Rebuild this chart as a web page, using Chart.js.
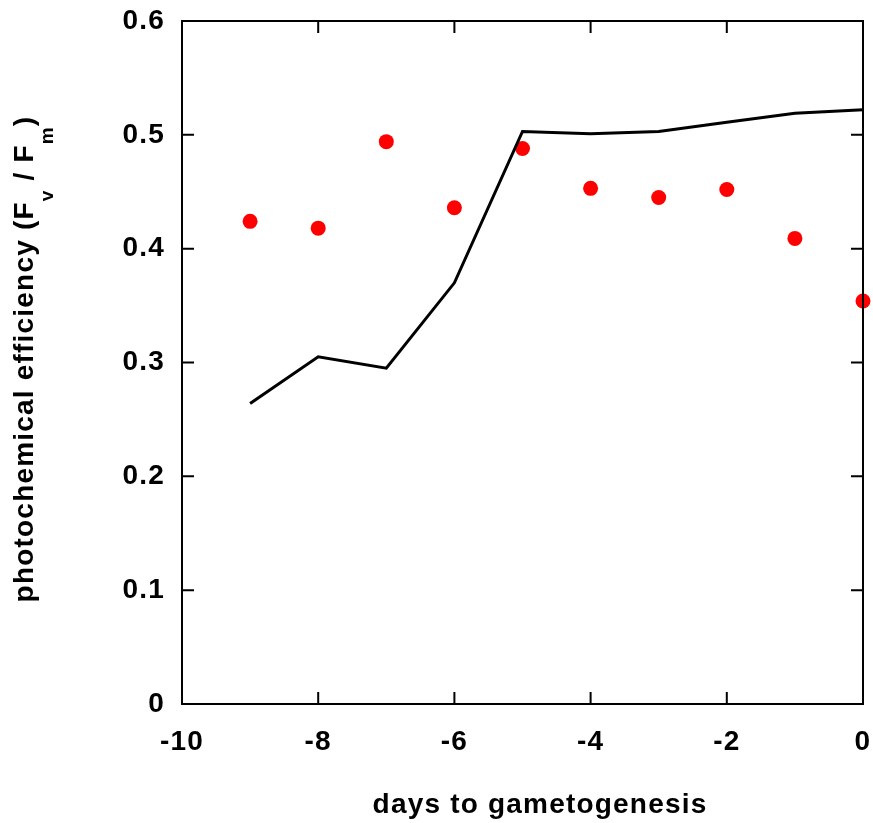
<!DOCTYPE html>
<html>
<head>
<meta charset="utf-8">
<script src="https://cdn.jsdelivr.net/npm/chart.js@4.4.1/dist/chart.umd.min.js"></script>
<style>
  html, body { margin: 0; padding: 0; background: #fff; }
  #wrap { width: 873px; height: 823px; position: relative; }
</style>
</head>
<body>
<div id="wrap"><canvas id="c" width="873" height="823"></canvas></div>
<script>
// ---- data ----
const days = [-9, -8, -7, -6, -5, -4, -3, -2, -1, 0];
const pointValues = [0.424, 0.418, 0.494, 0.436, 0.488, 0.453, 0.445, 0.452, 0.409, 0.354];
const lineValues = [0.264, 0.305, 0.295, 0.370, 0.503, 0.501, 0.503, 0.511, 0.519, 0.522];
const xTickLabels = ['-10', '-8', '-6', '-4', '-2', '0'];
const yTickLabels = ['0', '0.1', '0.2', '0.3', '0.4', '0.5', '0.6'];
const xTitle = 'days to gametogenesis';
const yTitleParts = [
  { text: 'photochemical efficiency (F', sub: false },
  { text: 'v', sub: true },
  { text: ' / F', sub: false },
  { text: 'm', sub: true },
  { text: ')', sub: false }
];

const FONT = '"Liberation Sans", Arial, sans-serif';
const SPACING = '1.2px';

const spacingPlugin = {
  id: 'spacing',
  beforeUpdate(chart) { chart.ctx.letterSpacing = SPACING; },
  beforeLayout(chart) { chart.ctx.letterSpacing = SPACING; },
  beforeDraw(chart) { chart.ctx.letterSpacing = SPACING; }
};

const framePlugin = {
  id: 'frame',
  afterDraw(chart) {
    const { ctx, chartArea: a, scales } = chart;
    ctx.save();
    ctx.strokeStyle = '#000';
    ctx.lineWidth = 2;
    ctx.strokeRect(a.left, a.top, a.right - a.left, a.bottom - a.top);
    const tl = 12;
    ctx.beginPath();
    scales.x.ticks.forEach(t => {
      const px = scales.x.getPixelForValue(t.value);
      ctx.moveTo(px, a.bottom); ctx.lineTo(px, a.bottom - tl);
      ctx.moveTo(px, a.top); ctx.lineTo(px, a.top + tl);
    });
    scales.y.ticks.forEach(t => {
      const py = scales.y.getPixelForValue(t.value);
      ctx.moveTo(a.left, py); ctx.lineTo(a.left + tl, py);
      ctx.moveTo(a.right, py); ctx.lineTo(a.right - tl, py);
    });
    ctx.stroke();

    ctx.letterSpacing = SPACING;
    ctx.fillStyle = '#000';

    // x-axis title
    ctx.font = 'bold 28px ' + FONT;
    ctx.textAlign = 'center';
    ctx.textBaseline = 'middle';
    ctx.fillText(xTitle, 540, 805);

    // y-axis title with subscripts
    const mainFont = 'bold 28px ' + FONT;
    const subFont = 'bold 19px ' + FONT;
    let total = 0;
    yTitleParts.forEach(p => {
      ctx.font = p.sub ? subFont : mainFont;
      p.w = ctx.measureText(p.text).width;
      total += p.w;
    });
    ctx.translate(33, 359);
    ctx.rotate(-Math.PI / 2);
    ctx.textBaseline = 'alphabetic';
    ctx.textAlign = 'left';
    let x = -total / 2;
    yTitleParts.forEach(p => {
      ctx.font = p.sub ? subFont : mainFont;
      ctx.fillText(p.text, x, p.sub ? 20 : 0);
      x += p.w;
    });
    ctx.restore();
  }
};

new Chart(document.getElementById('c'), {
  type: 'scatter',
  data: {
    datasets: [
      {
        label: 'line',
        data: days.map((d, i) => ({ x: d, y: lineValues[i] })),
        showLine: true,
        borderColor: '#000',
        borderWidth: 3,
        pointRadius: 0,
        fill: false,
        tension: 0,
        clip: false
      },
      {
        label: 'points',
        data: days.map((d, i) => ({ x: d, y: pointValues[i] })),
        showLine: false,
        pointRadius: 7.5,
        pointBackgroundColor: '#ff0000',
        pointBorderWidth: 0,
        borderColor: '#ff0000',
        clip: false
      }
    ]
  },
  options: {
    responsive: false,
    animation: false,
    devicePixelRatio: 1,
    layout: { padding: { top: 21, right: 10, left: 0, bottom: 0 } },
    plugins: { legend: { display: false }, tooltip: { enabled: false } },
    scales: {
      x: {
        type: 'linear',
        min: -10, max: 0,
        afterBuildTicks(scale) {
          scale.ticks = xTickLabels.map(v => ({ value: Number(v) }));
        },
        afterFit(scale) {
          scale.height = 119;
          scale.paddingLeft = 0; scale.paddingRight = 0;
        },
        grid: { display: false, drawTicks: false },
        border: { display: false },
        ticks: {
          padding: 21,
          color: '#000',
          font: { family: FONT, size: 28, weight: 'bold' },
          maxRotation: 0,
          callback: (v, i) => xTickLabels[i]
        },
        title: { display: false }
      },
      y: {
        type: 'linear',
        min: 0, max: 0.6,
        afterBuildTicks(scale) {
          scale.ticks = yTickLabels.map(v => ({ value: Number(v) }));
        },
        afterFit(scale) {
          scale.width = 182;
          scale.paddingTop = 0; scale.paddingBottom = 0;
        },
        grid: { display: false, drawTicks: false },
        border: { display: false },
        ticks: {
          padding: 17,
          color: '#000',
          font: { family: FONT, size: 28, weight: 'bold' },
          callback: (v, i) => yTickLabels[i]
        }
      }
    }
  },
  plugins: [spacingPlugin, framePlugin]
});
</script>
</body>
</html>
